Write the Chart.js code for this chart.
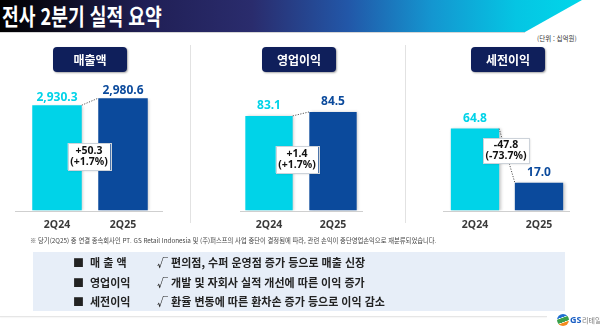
<!DOCTYPE html>
<html lang="ko">
<head>
<meta charset="utf-8">
<script src="https://cdn.jsdelivr.net/npm/chart.js@4.4.1/dist/chart.umd.min.js"></script>
<style>
  html, body { margin: 0; padding: 0; background: #fff; }
  body { width: 600px; height: 329px; position: relative; overflow: hidden;
         font-family: "Noto Sans CJK KR", "Noto Sans", sans-serif; color: #222; }
  .header { position: absolute; left: 0; top: 0; width: 600px; height: 32px;
    background: linear-gradient(90deg, #000 0%, #0c0b1c 9%, #201f55 24%, #2a2c6d 42%, #2257a8 58%, #1496d0 72%, #05c5e3 86%, #00d7ea 97%);
    clip-path: polygon(0 0, 582px 0, 525px 32px, 0 32px); }
  .header h1 { margin: 0; position: absolute; left: 2px; top: 0; line-height: 31px; color: #fff;
    font-size: 23px; font-weight: 700; white-space: nowrap; transform-origin: left center; transform: scaleX(0.79); }
  .header-line { position: absolute; left: 0; top: 32px; width: 525px; height: 1px; background: #d6d6d6; }
  .unit { position: absolute; left: 537px; top: 33px; font-size: 6.5px; color: #333; }
  .sep { position: absolute; top: 45px; width: 1px; height: 178px; background: #e2e2e2; }
  .tag { position: absolute; top: 47px; width: 74px; height: 25px; border-radius: 4px; background: #0f1f5b;
    color: #fff; font-weight: 700; font-size: 12px; line-height: 25px; text-align: center;
    box-shadow: 1px 1px 2px rgba(0,0,0,0.35); z-index: 2; }
  canvas { position: absolute; top: 60px; }
  .note { position: absolute; left: 30px; top: 236px; font-size: 6.3px; color: #444; white-space: nowrap; }
  .summary { position: absolute; left: 33px; top: 252px; width: 532px; height: 59px; background: #e7eef8; }
  .row { position: absolute; left: 0; height: 16px; line-height: 16px; font-size: 11px; font-weight: 700; color: #222; white-space: nowrap; }
  .row .sq { position: absolute; left: 40px; }
  .row .head { position: absolute; left: 57px; }
  .row .text { position: absolute; left: 124px; }
  .foot-line { position: absolute; left: 0; top: 316px; width: 547px; height: 1px; background: #e6e6e6; box-shadow: 0 1px 1px rgba(0,0,0,0.04); }
  .logo { position: absolute; left: 557px; top: 313px; height: 14px; white-space: nowrap; }
  .logo .mark { position: absolute; left: 0; top: 1px; width: 12px; height: 12px; border-radius: 50%;
    background: linear-gradient(160deg, #1f6fd0 0%, #1f6fd0 30%, #fff 33%, #3aa04a 38%, #3aa04a 62%, #fff 65%, #f28a1e 70%, #f28a1e 100%); }
  .logo .gs { position: absolute; left: 13px; top: 0; font-family: "Noto Sans", sans-serif; font-size: 9px; font-weight: 700; color: #1b5fc4; line-height: 14px; }
  .logo .kr { position: absolute; left: 25px; top: 0; font-size: 7px; color: #777; line-height: 14px; }
</style>
</head>
<body>
<div class="header"><h1>전사 2분기 실적 요약</h1></div>
<div class="header-line"></div>
<div class="unit">(단위 : 십억원)</div>
<div class="sep" style="left:190px"></div>
<div class="sep" style="left:405px"></div>

<div class="tag" style="left:53px">매출액</div>
<div class="tag" style="left:262px">영업이익</div>
<div class="tag" style="left:471px">세전이익</div>

<canvas id="c0" width="152" height="179" style="left:14px"></canvas>
<canvas id="c1" width="148" height="179" style="left:227px"></canvas>
<canvas id="c2" width="148" height="179" style="left:433px"></canvas>

<div class="note">※ 당기(2Q25) 중 연결 종속회사인 PT. GS Retail Indonesia 및 (주)퍼스프의 사업 중단이 결정됨에 따라, 관련 손익이 중단영업손익으로 재분류되었습니다.</div>

<div class="summary" id="summary"></div>
<div class="foot-line"></div>
<div class="logo"><span class="mark"></span><span class="gs">GS</span><span class="kr">리테일</span></div>

<script>
// 분기, 지표
const quarters = ['2Q24', '2Q25'];
const metrics = ['매출액', '영업이익', '세전이익'];

// 실적 (십억원)
const revenue = [2930.3, 2980.6];
const operatingProfit = [83.1, 84.5];
const pretaxProfit = [64.8, 17.0];

// 증감
const changeValues = ['+50.3', '+1.4', '-47.8'];
const changeRates = ['(+1.7%)', '(+1.7%)', '(-73.7%)'];

// 각 차트 y축 범위
const scaleMin = [2176, 50.1, -7.5];
const scaleMax = [3254, 102.6, 125.3];

// 하단 요약
const summaryHeads = ['매 출 액', '영업이익', '세전이익'];
const summaryTexts = [
  '√ 편의점, 수퍼 운영점 증가 등으로 매출 신장',
  '√ 개발 및 자회사 실적 개선에 따른 이익 증가',
  '√ 환율 변동에 따른 환차손 증가 등으로 이익 감소'
];

const barColors = ['#00d3e8', '#0b4a9c'];
const series = [revenue, operatingProfit, pretaxProfit];

// 차트별 배치 옵션
const panels = [
  { id: 'c0', barPct: 0.75,  extL: 9,  extR: 7,  gap: 8,  boxY: 96.5, boxDx: -1, boxH: 27 },
  { id: 'c1', barPct: 0.74,  extL: -3, extR: -2, gap: 10, boxY: 99.5, boxDx: -4, boxH: 27 },
  { id: 'c2', barPct: 0.755, extL: 0,  extR: -1, gap: 10, boxY: 90.5, boxDx: -1, boxH: 25 }
];

function fmt(v) {
  return v.toLocaleString('en-US', { minimumFractionDigits: 1, maximumFractionDigits: 1 });
}

const barDecor = {
  id: 'barDecor',
  beforeDatasetsDraw(chart) {
    const ctx = chart.ctx;
    ctx.save();
    ctx.shadowColor = 'rgba(0,0,0,0.22)';
    ctx.shadowBlur = 3;
    ctx.shadowOffsetX = 1.5;
    ctx.shadowOffsetY = 0.5;
  },
  afterDatasetsDraw(chart, args, opts) {
    const ctx = chart.ctx;
    ctx.restore();
    const area = chart.chartArea;
    const meta = chart.getDatasetMeta(0);
    const vals = chart.data.datasets[0].data;
    const [b1, b2] = meta.data;

    // 기준선
    ctx.save();
    ctx.strokeStyle = '#cfcfcf';
    ctx.lineWidth = 1;
    ctx.beginPath();
    ctx.moveTo(area.left - opts.extL, Math.round(area.bottom) + 0.5);
    ctx.lineTo(area.right + opts.extR, Math.round(area.bottom) + 0.5);
    ctx.stroke();

    // 값 레이블
    ctx.font = 'bold 12px "Noto Sans"';
    ctx.textAlign = 'center';
    ctx.textBaseline = 'middle';
    meta.data.forEach((bar, i) => {
      ctx.fillStyle = barColors[i];
      ctx.fillText(fmt(vals[i]), bar.x, bar.y - opts.gap);
    });

    // 막대 연결 점선
    const x1 = b1.x + b1.width / 2, x2 = b2.x - b2.width / 2;
    ctx.strokeStyle = '#555';
    ctx.setLineDash([1.2, 1.4]);
    ctx.beginPath();
    ctx.moveTo(x1, b1.y);
    ctx.lineTo(x2, b2.y);
    ctx.stroke();
    ctx.setLineDash([]);

    // 증감 박스
    const cx = (x1 + x2) / 2 + opts.boxDx;
    const cy = opts.boxY;
    ctx.font = 'bold 10.5px "Noto Sans"';
    const w = Math.max(ctx.measureText(opts.change).width, ctx.measureText(opts.rate).width) + 5;
    const h = opts.boxH;
    ctx.shadowColor = 'rgba(0,0,0,0.18)';
    ctx.shadowBlur = 2;
    ctx.shadowOffsetX = 1;
    ctx.shadowOffsetY = 1;
    ctx.fillStyle = '#fff';
    ctx.fillRect(cx - w / 2, cy - h / 2, w, h);
    ctx.shadowColor = 'transparent';
    ctx.strokeStyle = '#cdd3da';
    ctx.strokeRect(Math.round(cx - w / 2) + 0.5, Math.round(cy - h / 2) + 0.5, Math.round(w), Math.round(h));
    ctx.fillStyle = '#111';
    ctx.fillText(opts.change, cx, cy - 5.5);
    ctx.fillText(opts.rate, cx, cy + 5.5);
    ctx.restore();
  }
};

panels.forEach((p, k) => {
  new Chart(document.getElementById(p.id), {
    type: 'bar',
    data: {
      labels: quarters,
      datasets: [{
        label: metrics[k],
        data: series[k],
        backgroundColor: barColors,
        borderWidth: 0,
        base: scaleMin[k],
        categoryPercentage: 1,
        barPercentage: p.barPct
      }]
    },
    options: {
      responsive: false,
      animation: false,
      layout: { padding: { left: 10, right: 10, top: 0, bottom: 0 } },
      plugins: {
        legend: { display: false },
        tooltip: { enabled: false },
        barDecor: Object.assign({ change: changeValues[k], rate: changeRates[k] }, p)
      },
      scales: {
        x: {
          grid: { display: false, drawTicks: false },
          border: { display: false },
          ticks: { color: '#3a3a3a', padding: 9, font: { family: 'Noto Sans', size: 10.5, weight: 'bold', lineHeight: 1 } }
        },
        y: { display: false, min: scaleMin[k], max: scaleMax[k] }
      }
    },
    plugins: [barDecor]
  });
});

// 하단 요약 행
const summary = document.getElementById('summary');
summaryHeads.forEach((head, i) => {
  const row = document.createElement('div');
  row.className = 'row';
  row.style.top = (2 + i * 19.5) + 'px';
  row.innerHTML = '<span class="sq">■</span><span class="head"></span><span class="text"></span>';
  row.querySelector('.head').textContent = head;
  row.querySelector('.text').textContent = summaryTexts[i];
  summary.appendChild(row);
});
</script>
</body>
</html>
